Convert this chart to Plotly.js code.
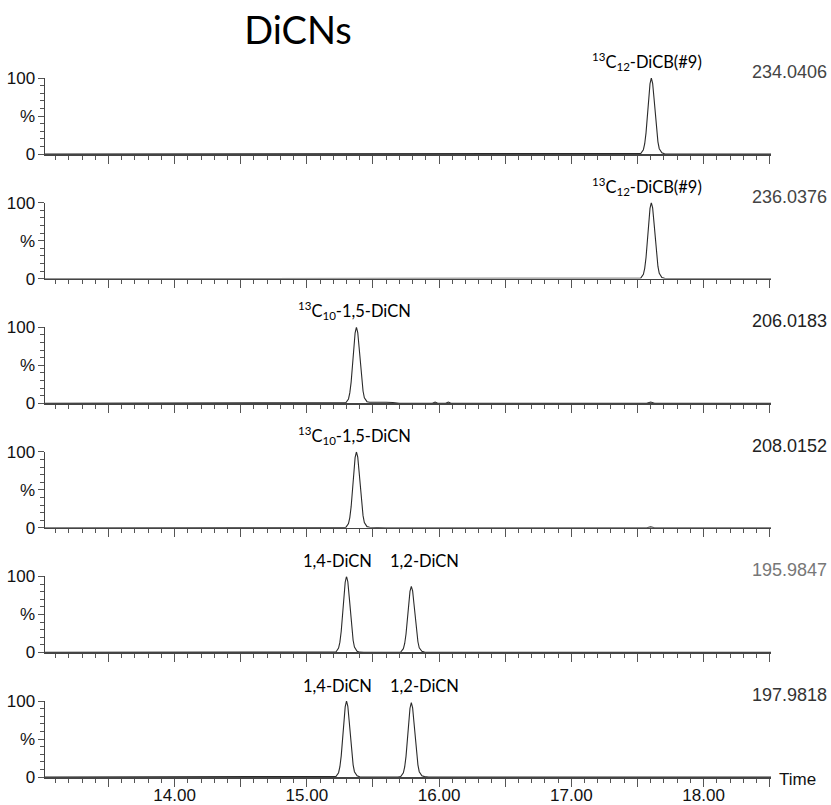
<!DOCTYPE html>
<html>
<head>
<meta charset="utf-8">
<script src="https://cdn.plot.ly/plotly-3.0.1.min.js"></script>
<style>html,body{margin:0;padding:0;background:#fff;}#chart{width:831px;height:805px;}</style>
</head>
<body>
<div id="chart"></div>
<script>
// ---- data (retention time in min, relative intensity in %) ----
const massLabels = ['234.0406', '236.0376', '206.0183', '208.0152', '195.9847', '197.9818'];

const t1 = [13.02, 17.505, 17.525, 17.545, 17.555, 17.565, 17.575, 17.585, 17.595, 17.605, 17.615, 17.625, 17.635, 17.645, 17.655, 17.665, 17.685, 17.705, 17.735, 18.51];
const y1 = [0, 0, 0.6, 5.6, 13.5, 27.8, 48.7, 72.6, 92.3, 100, 93, 74, 51, 30, 16, 7, 1.5, 0.3, 0, 0];

const t2 = [13.02, 17.505, 17.525, 17.545, 17.555, 17.565, 17.575, 17.585, 17.595, 17.605, 17.615, 17.625, 17.635, 17.645, 17.655, 17.665, 17.685, 17.705, 17.735, 18.51];
const y2 = [0, 0, 0.6, 5.6, 13.5, 27.8, 48.7, 72.6, 92.3, 100, 93, 74, 51, 30, 16, 7, 1.5, 0.3, 0, 0];

const t3 = [13.02, 15.275, 15.295, 15.315, 15.325, 15.335, 15.345, 15.355, 15.365, 15.375, 15.385, 15.395, 15.405, 15.415, 15.425, 15.435, 15.455, 15.475, 15.50, 15.55, 15.60, 15.65, 15.68, 15.70, 15.95, 15.97, 15.99, 16.05, 16.07, 16.09, 17.57, 17.60, 17.63, 18.51];
const y3 = [0, 0, 0.6, 5.6, 13.5, 27.8, 48.7, 72.6, 92.3, 100, 93, 74, 51, 30, 16, 7, 2, 1.2, 1, 1.5, 1.2, 1, 0.8, 0, 0, 1.5, 0, 0, 1.5, 0, 0, 1.5, 0, 0];

const t4 = [13.02, 15.275, 15.295, 15.315, 15.325, 15.335, 15.345, 15.355, 15.365, 15.375, 15.385, 15.395, 15.405, 15.415, 15.425, 15.435, 15.455, 15.475, 15.50, 15.56, 15.60, 17.57, 17.60, 17.63, 18.51];
const y4 = [0, 0, 0.6, 5.6, 13.5, 27.8, 48.7, 72.6, 92.3, 100, 93, 74, 51, 30, 16, 7, 1.5, 0.8, 0.6, 0.8, 0, 0, 1.2, 0, 0];

const t5 = [13.02, 15.20, 15.22, 15.24, 15.25, 15.26, 15.27, 15.28, 15.29, 15.30, 15.31, 15.32, 15.33, 15.34, 15.35, 15.36, 15.38, 15.40, 15.43, 15.69, 15.71, 15.73, 15.74, 15.75, 15.76, 15.77, 15.78, 15.79, 15.80, 15.81, 15.82, 15.83, 15.84, 15.85, 15.87, 15.89, 15.92, 18.51];
const y5 = [0, 0, 0.6, 5.6, 13.5, 27.8, 48.7, 72.6, 92.3, 100, 93, 74, 51, 30, 16, 7, 1.5, 0.3, 0, 0, 0.5, 4.9, 11.7, 24.2, 42.4, 63.2, 80.3, 87, 81, 64, 44, 26, 14, 6, 1.5, 0.5, 0, 0];

const t6 = [13.02, 15.20, 15.22, 15.24, 15.25, 15.26, 15.27, 15.28, 15.29, 15.30, 15.31, 15.32, 15.33, 15.34, 15.35, 15.36, 15.38, 15.40, 15.43, 15.69, 15.71, 15.73, 15.74, 15.75, 15.76, 15.77, 15.78, 15.79, 15.80, 15.81, 15.82, 15.83, 15.84, 15.85, 15.87, 15.89, 15.92, 18.51];
const y6 = [0, 0, 0.6, 5.6, 13.5, 27.8, 48.7, 72.6, 92.3, 100, 93, 74, 51, 30, 16, 7, 1.5, 0.3, 0, 0, 0.6, 5.5, 13.2, 27.2, 47.7, 71.1, 90.5, 98, 91, 72, 50, 29, 16, 7, 1.5, 0.5, 0, 0];

// peak labels: [panel index, time, text]
const peakPanels = [0, 1, 2, 3, 4, 4, 5, 5];
const peakTimes  = [17.57, 17.57, 15.363, 15.363, 15.235, 15.89, 15.235, 15.89];
const peakTexts  = ['<sup>13</sup>C<sub>12</sub>-DiCB(#9)', '<sup>13</sup>C<sub>12</sub>-DiCB(#9)',
                    '<sup>13</sup>C<sub>10</sub>-1,5-DiCN', '<sup>13</sup>C<sub>10</sub>-1,5-DiCN',
                    '1,4-DiCN', '1,2-DiCN', '1,4-DiCN', '1,2-DiCN'];

const NB = '\u00a0';
const xTickVals = [13.5, 14.0, 14.5, 15.0, 15.5, 16.0, 16.5, 17.0, 17.5, 18.0, 18.5];
const xTickText = [NB, '14.00', NB, '15.00', NB, '16.00', NB, '17.00', NB, '18.00', NB];
const xRange = [13.02, 18.51];

// ---- build figure ----
const ts = [t1, t2, t3, t4, t5, t6];
const ys = [y1, y2, y3, y4, y5, y6];
const massColors = ['#444', '#444', '#222', '#222', '#777', '#333'];

const W = 831, H = 805;
const zero0 = 154, step = 124.6, panelH = 76;

const traces = [];
const layout = {
  width: W, height: H,
  margin: {l: 45, r: 60, t: 0, b: 0},
  paper_bgcolor: '#fff', plot_bgcolor: '#fff',
  showlegend: false,
  title: {text: 'DiCNs', x: 298 / W, xanchor: 'center', y: 1 - 31 / H, yanchor: 'middle',
          font: {family: 'Lato, "Open Sans", sans-serif', size: 38, color: '#000'}},
  annotations: []
};

for (let i = 0; i < 6; i++) {
  const n = i + 1;
  const xs = n === 1 ? '' : String(n);
  traces.push({
    x: ts[i], y: ys[i], type: 'scatter', mode: 'lines',
    xaxis: 'x' + xs, yaxis: 'y' + xs,
    line: {color: '#2a2a2a', width: 1.1}, hoverinfo: 'skip'
  });
  const zero = zero0 + step * i;
  const bottom = 1 - zero / H, top = 1 - (zero - panelH) / H;
  layout['xaxis' + xs] = {
    range: xRange, anchor: 'y' + xs, domain: [0, 1],
    matches: n === 1 ? undefined : 'x',
    showline: true, linecolor: '#444', linewidth: 1.5,
    showgrid: false, zeroline: false,
    tickmode: 'array', tickvals: xTickVals, ticktext: xTickText,
    ticks: 'outside', ticklen: 8, tickcolor: '#555', tickwidth: 1,
    showticklabels: n === 6,
    ticklabelstandoff: -6,
    tickfont: {family: 'Arial, "Liberation Sans", sans-serif', size: 17, color: '#111'},
    minor: {tickmode: 'linear', tick0: 13.0, dtick: 0.1, ticks: 'outside', ticklen: 4, tickcolor: '#555', tickwidth: 1, showgrid: false}
  };
  layout['yaxis' + xs] = {
    range: [0, 100], domain: [bottom, top], anchor: 'x' + xs,
    showline: true, linecolor: '#444', linewidth: 1.5,
    showgrid: false, zeroline: false,
    tickmode: 'array', tickvals: [0, 50, 100], ticktext: ['0', '%', '100'],
    ticks: 'outside', ticklen: 6, tickcolor: '#555', tickwidth: 1,
    ticklabelstandoff: -1,
    tickfont: {family: 'Arial, "Liberation Sans", sans-serif', size: 17, color: '#111'},
    minor: {tickmode: 'linear', tick0: 0, dtick: 10, ticks: 'outside', ticklen: 3.5, tickcolor: '#555', tickwidth: 1, showgrid: false}
  };
  layout.annotations.push({
    text: massLabels[i], xref: 'paper', x: 1, xanchor: 'right', xshift: 58,
    yref: 'y' + xs + ' domain', y: 1, yanchor: 'middle', yshift: 6,
    showarrow: false,
    font: {family: 'Arial, "Liberation Sans", sans-serif', size: 18, color: massColors[i]}
  });
}

for (let k = 0; k < peakTimes.length; k++) {
  const n = peakPanels[k] + 1;
  const xs = n === 1 ? '' : String(n);
  layout.annotations.push({
    text: peakTexts[k], xref: 'x' + xs, x: peakTimes[k], xanchor: 'center',
    yref: 'y' + xs + ' domain', y: 1, yanchor: 'bottom', yshift: 3,
    showarrow: false,
    font: {family: 'Lato, "Open Sans", sans-serif', size: 16.5, color: '#000'}
  });
}

layout.annotations.push({
  text: 'Time', xref: 'paper', x: 1, xanchor: 'left', xshift: 6,
  yref: 'y6 domain', y: 0, yanchor: 'middle', yshift: -2,
  showarrow: false,
  font: {family: 'Arial, "Liberation Sans", sans-serif', size: 17, color: '#111'}
});

Plotly.newPlot('chart', traces, layout, {displayModeBar: false, staticPlot: true});
</script>
</body>
</html>
